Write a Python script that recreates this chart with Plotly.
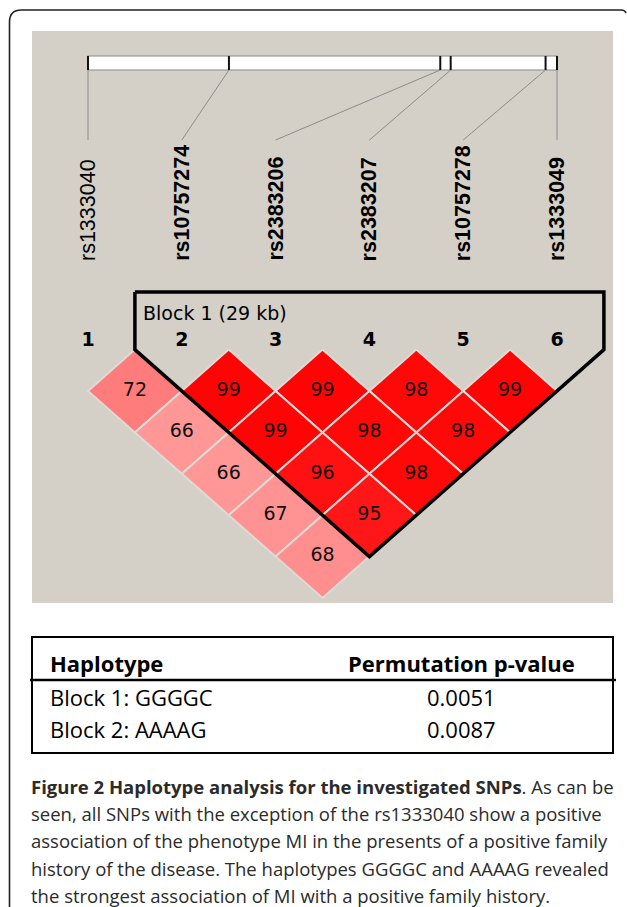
import plotly.graph_objects as go

# ---------------- data ----------------
snp_names = ["rs1333040", "rs10757274", "rs2383206", "rs2383207", "rs10757278", "rs1333049"]
snp_pos_bp = [22083404, 22096055, 22115026, 22115959, 22124477, 22125503]
snp_numbers = ["1", "2", "3", "4", "5", "6"]
snp_in_block = [False, True, True, True, True, True]

pair_i = [1, 2, 3, 4, 5, 1, 2, 3, 4, 1, 2, 3, 1, 2, 1]
pair_j = [2, 3, 4, 5, 6, 3, 4, 5, 6, 4, 5, 6, 5, 6, 6]
dprime = [72, 99, 99, 98, 99, 66, 99, 98, 98, 66, 96, 98, 67, 95, 68]

block_label = "Block 1 (29 kb)"
block_start, block_end = 2, 6

table_header = ["Haplotype", "Permutation p-value"]
haplotypes = ["Block 1: GGGGC", "Block 2: AAAAG"]
p_values = ["0.0051", "0.0087"]

caption_lines = [
    "<b>Figure 2 Haplotype analysis for the investigated SNPs</b>. As can be",
    "seen, all SNPs with the exception of the rs1333040 show a positive",
    "association of the phenotype MI in the presents of a positive family",
    "history of the disease. The haplotypes GGGGC and AAAAG revealed",
    "the strongest association of MI with a positive family history.",
]

# ---------------- layout constants (pixels) ----------------
W, H = 627, 907
PANEL = (32, 31, 613, 603)
PANEL_COLOR = "#d4d0c8"
LD_X0, LD_X1 = 88, 557
BAR_Y0, BAR_Y1 = 56, 70
CONN_Y = 140
LABEL_BOTTOM = 263
NUM_Y = 341
ROW1_Y = 391
HH = 41.4
BLOCK_TOP = 292

n = len(snp_names)
step = (LD_X1 - LD_X0) / (n - 1)
HW = step / 2
snp_x = [LD_X0 + k * step for k in range(n)]
span = snp_pos_bp[-1] - snp_pos_bp[0]
gene_x = [LD_X0 + (p - snp_pos_bp[0]) / span * (LD_X1 - LD_X0) for p in snp_pos_bp]


def ld_color(d):
    d = d / 100.0
    v = int((255 - 32) * 2 * (1 - d))
    return f"rgb(255,{v},{v})"


fig = go.Figure()
shapes = []
annotations = []

# outer rounded frame
shapes.append(dict(type="path", path="M 9.5,907 L 9.5,22 Q 9.5,10 21.5,10 L 621,10 Q 625,10 626,13",
                   line=dict(color="#222222", width=1.6), layer="above"))
# gray panel
shapes.append(dict(type="rect", x0=PANEL[0], y0=PANEL[1], x1=PANEL[2], y1=PANEL[3],
                   fillcolor=PANEL_COLOR, line=dict(width=0), layer="below"))
# gene bar
shapes.append(dict(type="rect", x0=gene_x[0], y0=BAR_Y0, x1=gene_x[-1], y1=BAR_Y1,
                   fillcolor="white", line=dict(color="#8a8a8a", width=1.2), layer="below"))
for gx, sx in zip(gene_x, snp_x):
    shapes.append(dict(type="line", x0=gx, y0=BAR_Y0, x1=gx, y1=BAR_Y1,
                       line=dict(color="#111111", width=2)))
    fig.add_trace(go.Scatter(x=[gx, sx], y=[BAR_Y1, CONN_Y], mode="lines",
                             line=dict(color="#8c8c8c", width=1), hoverinfo="skip"))

# SNP names (rotated)
for name, sx, inb in zip(snp_names, snp_x, snp_in_block):
    annotations.append(dict(x=sx, y=LABEL_BOTTOM, text=name, textangle=-90, showarrow=False,
                            xanchor="center", yanchor="bottom",
                            font=dict(family="Liberation Sans", size=21.5, color="black",
                                      weight=700 if inb else 400)))

# SNP numbers
fig.add_trace(go.Scatter(x=snp_x, y=[NUM_Y] * n, mode="text", text=snp_numbers,
                         textfont=dict(family="DejaVu Sans", size=19, color="black", weight=700),
                         hoverinfo="skip"))

# LD diamonds
cx, cy, labels = [], [], []
for i, j, d in zip(pair_i, pair_j, dprime):
    x = (snp_x[i - 1] + snp_x[j - 1]) / 2
    y = ROW1_Y + (j - i - 1) * HH
    fig.add_trace(go.Scatter(x=[x, x + HW, x, x - HW, x], y=[y - HH, y, y + HH, y, y - HH],
                             mode="lines", fill="toself", fillcolor=ld_color(d),
                             line=dict(color="#dedad4", width=2), hoverinfo="skip"))
    cx.append(x)
    cy.append(y)
    labels.append(str(d))
fig.add_trace(go.Scatter(x=cx, y=cy, mode="text", text=labels,
                         textfont=dict(family="DejaVu Sans", size=19, color="#111111"), hoverinfo="skip"))

# block outline
bl = snp_x[block_start - 1] - HW
br = snp_x[block_end - 1] + HW
by = ROW1_Y - HH
bx_bot = (snp_x[block_start - 1] + snp_x[block_end - 1]) / 2
by_bot = ROW1_Y + (block_end - block_start - 1) * HH + HH
fig.add_trace(go.Scatter(x=[bl, br, br, bx_bot, bl, bl], y=[BLOCK_TOP, BLOCK_TOP, by, by_bot, by, BLOCK_TOP],
                         mode="lines", line=dict(color="black", width=3.5), hoverinfo="skip"))
annotations.append(dict(x=bl + 6, y=BLOCK_TOP + 21, text=block_label, showarrow=False,
                        xanchor="left", yanchor="middle",
                        font=dict(family="DejaVu Sans", size=19, color="black")))

# table
TBL = (32, 637, 613, 753)
shapes.append(dict(type="rect", x0=TBL[0], y0=TBL[1], x1=TBL[2], y1=TBL[3],
                   line=dict(color="black", width=2)))
shapes.append(dict(type="line", x0=TBL[0] - 2, y0=680, x1=TBL[2] + 3, y1=680,
                   line=dict(color="black", width=2.5)))
tfont = dict(family="Open Sans", size=22, color="black")
annotations.append(dict(x=48, y=663, text=f"<b>{table_header[0]}</b>", showarrow=False,
                        xanchor="left", yanchor="middle", font=tfont))
annotations.append(dict(x=461, y=663, text=f"<b>{table_header[1]}</b>", showarrow=False,
                        xanchor="center", yanchor="middle", font=tfont))
for k, (hp, pv) in enumerate(zip(haplotypes, p_values)):
    yy = 697 + k * 32
    annotations.append(dict(x=48, y=yy, text=hp, showarrow=False, xanchor="left",
                            yanchor="middle", font=tfont))
    annotations.append(dict(x=461, y=yy, text=pv, showarrow=False, xanchor="center",
                            yanchor="middle", font=tfont))

# caption
for k, line in enumerate(caption_lines):
    annotations.append(dict(x=29, y=786 + k * 27.4, text=line, showarrow=False,
                            xanchor="left", yanchor="middle",
                            font=dict(family="Open Sans", size=18.5, color="#2b2b2b")))

fig.update_layout(
    width=W, height=H, margin=dict(l=0, r=0, t=0, b=0),
    paper_bgcolor="white", plot_bgcolor="white", showlegend=False,
    xaxis=dict(range=[0, W], visible=False, fixedrange=True),
    yaxis=dict(range=[H, 0], visible=False, fixedrange=True),
    shapes=shapes, annotations=annotations,
)

fig.write_html("out.html", config={"displayModeBar": False},
               post_script="document.body.style.margin='0';document.body.style.overflow='hidden';")
